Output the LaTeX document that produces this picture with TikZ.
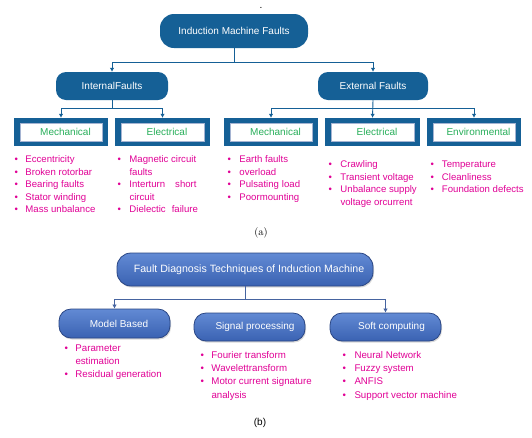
\documentclass[tikz,border=0pt]{standalone}
\usepackage{fontspec}
\setsansfont{Liberation Sans}
\usetikzlibrary{arrows.meta,shadows}
\definecolor{darkA}{RGB}{21,96,150}
\definecolor{innerA}{RGB}{165,180,210}
\definecolor{greenA}{RGB}{40,175,90}
\definecolor{mag}{RGB}{225,0,150}
\definecolor{blueBtop}{RGB}{98,138,212}
\definecolor{blueBbot}{RGB}{58,98,178}
\definecolor{edgeB}{RGB}{42,70,132}
\definecolor{lineB}{RGB}{70,100,160}
\tikzset{
  txt/.style={font=\sffamily\fontsize{10}{12}\selectfont},
  boxA/.style={txt, fill=darkA, text=white, inner sep=0pt},
  topA/.style={boxA, minimum width=148pt, minimum height=34pt, rounded corners=14pt},
  midA/.style={boxA, minimum height=28pt, rounded corners=10pt},
  catA/.style={txt, fill=darkA, text=greenA, inner sep=0pt, minimum height=28pt,
    path picture={\draw[fill=white, draw=innerA, line width=0.8pt]
      ([xshift=6pt,yshift=5pt]path picture bounding box.south west) rectangle
      ([xshift=-6pt,yshift=-5pt]path picture bounding box.north east);}},
  boxB/.style={txt, text=white, inner sep=0pt, top color=blueBtop, bottom color=blueBbot,
    draw=edgeB, line width=0.8pt, rounded corners=12pt,
    drop shadow={opacity=0.3, shadow xshift=1pt, shadow yshift=-1.5pt}},
  listA/.style={anchor=base west, inner sep=0pt, text=mag, font=\sffamily\fontsize{9.6}{12.5}\selectfont},
  listB/.style={anchor=base west, inner sep=0pt, text=mag, font=\sffamily\fontsize{9.7}{13.2}\selectfont},
  arrA/.style={draw=darkA, line width=0.9pt, -{Latex[length=4pt,width=4.5pt]}},
  lnA/.style={draw=darkA, line width=0.9pt},
  arrB/.style={draw=lineB, line width=0.7pt, -{Latex[length=4pt,width=4.5pt]}},
  lnB/.style={draw=lineB, line width=0.7pt},
}
\begin{document}
\begin{tikzpicture}[x=1pt, y=-1pt]
\useasboundingbox[fill=white] (0,0) rectangle (532,437);

% ---------- part (a) ----------
\node[txt, inner sep=0pt, anchor=base] (dot) at (261,8) {.};
\node[topA] (imf) at (234,31) {Induction Machine Faults};
\node[midA, minimum width=112pt] (inf) at (112,86) {InternalFaults};
\node[midA, minimum width=110pt] (exf) at (373,86) {External Faults};

\node[catA, minimum width=94pt] (m1) at (61,132) {\hspace*{9pt}Mechanical};
\node[catA, minimum width=95pt] (e1) at (162.5,132) {\hspace*{9pt}Electrical};
\node[catA, minimum width=94pt] (m2) at (271,132) {\hspace*{9pt}Mechanical};
\node[catA, minimum width=95pt] (e2) at (372.5,132) {\hspace*{9pt}Electrical};
\node[catA, minimum width=94pt] (env) at (474,132) {\hspace*{9pt}Environmental};

\coordinate (j1) at (234,62);
\coordinate (j2) at (112,108);
\coordinate (j3) at (373,108);
\draw[lnA] (imf.south) -- (j1);
\draw[arrA] (j1) -| (inf.north);
\draw[arrA] (j1) -| (exf.north);
\draw[lnA] (inf.south) -- (j2);
\draw[arrA] (j2) -| (m1.north);
\draw[arrA] (j2) -| (e1.north);
\draw[arrA] (exf.south) -- (e2.north);
\draw[arrA] (j3) -| (m2.north);
\draw[arrA] (j3) -| (env.north);

\node[listA] (l1) at (14.3,162.5) {\begin{tabular}[t]{@{}p{11pt}@{}l@{}}
•&Eccentricity\\ •&Broken rotorbar\\ •&Bearing faults\\ •&Stator winding\\ •&Mass unbalance\end{tabular}};
\node[listA] (l2) at (117.3,162.5) {\begin{tabular}[t]{@{}p{12pt}@{}l@{}}
•&Magnetic circuit\\ &faults\\ •&Interturn\hspace{10pt}short\\ &circuit\\ •&Dielectic\hspace{6pt}failure\end{tabular}};
\node[listA] (l3) at (227.3,162.5) {\begin{tabular}[t]{@{}p{12pt}@{}l@{}}
•&Earth faults\\ •&overload\\ •&Pulsating\hspace{3pt}load\\ •&Poormounting\end{tabular}};
\node[listA] (l4) at (328.3,167.5) {\begin{tabular}[t]{@{}p{12pt}@{}l@{}}
•&Crawling\\ •&Transient voltage\\ •&Unbalance supply\\ &voltage orcurrent\end{tabular}};
\node[listA] (l5) at (430.3,167.5) {\begin{tabular}[t]{@{}p{11.5pt}@{}l@{}}
•&Temperature\\ •&Cleanliness\\ •&Foundation defects\end{tabular}};

\node[inner sep=0pt, font=\fontsize{10.5}{12}\selectfont] (capa) at (261,233) {(a)};

% ---------- part (b) ----------
\node[boxB, minimum width=256pt, minimum height=33pt, rounded corners=14pt, font=\sffamily\fontsize{10.6}{12}\selectfont]
  (fd) at (245,269.5) {\hspace*{8pt}Fault Diagnosis Techniques of Induction Machine};
\node[boxB, minimum width=111pt, minimum height=29pt] (mb) at (114.5,323.5) {\hspace*{9pt}Model Based};
\node[boxB, minimum width=111pt, minimum height=28pt] (sp) at (249.5,327) {\hspace*{11pt}Signal processing};
\node[boxB, minimum width=111pt, minimum height=28pt] (sc) at (385.5,327) {\hspace*{12pt}Soft computing};

\coordinate (j4) at (245,299);
\draw[lnB] (fd.south) -- (j4);
\draw[arrB] (j4) -| (mb.north);
\draw[arrB] (j4) -| (sc.north);

\node[listB] (l6) at (64.3,351.5) {\begin{tabular}[t]{@{}p{11pt}@{}l@{}}
•&Parameter\\ &estimation\\ •&Residual generation\end{tabular}};
\node[listB] (l7) at (200.3,358.5) {\begin{tabular}[t]{@{}p{11pt}@{}l@{}}
•&Fourier transform\\ •&Wavelettransform\\ •&Motor current signature\\ &analysis\end{tabular}};
\node[listB] (l8) at (342.3,358.5) {\begin{tabular}[t]{@{}p{12pt}@{}l@{}}
•&Neural Network\\ •&Fuzzy system\\ •&ANFIS\\ •&Support vector machine\end{tabular}};

\node[txt, inner sep=0pt] (capb) at (260,423) {(b)};
\end{tikzpicture}
\end{document}
